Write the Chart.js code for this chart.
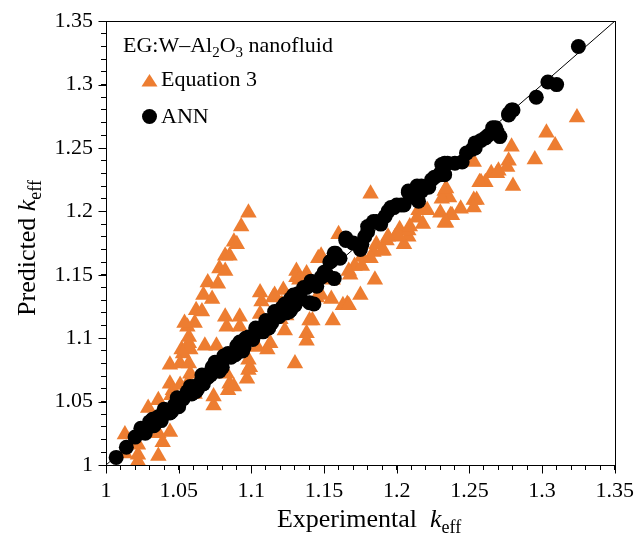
<!DOCTYPE html>
<html>
<head>
<meta charset="utf-8">
<script src="https://cdn.jsdelivr.net/npm/chart.js@4.4.0/dist/chart.umd.min.js"></script>
<style>
html, body { margin: 0; padding: 0; background: #fff; }
</style>
</head>
<body>
<canvas id="chart" width="642" height="541"></canvas>
<script>
// axis range and ticks
const axisMin = 1;
const axisMax = 1.35;
const minorStep = 0.01;
const tickLabels = ['1', '1.05', '1.1', '1.15', '1.2', '1.25', '1.3', '1.35'];

// Equation 3 (triangles)
const eqExperimental = [
  1.098, 1.093, 1.088, 1.090, 1.082, 1.085, 1.078, 1.082, 1.070, 1.077,
  1.067, 1.073, 1.062, 1.066, 1.056, 1.061, 1.057, 1.052, 1.058, 1.068,
  1.076, 1.082, 1.083, 1.092, 1.092, 1.106, 1.107, 1.106, 1.115, 1.131,
  1.131, 1.133, 1.122, 1.121, 1.124, 1.123, 1.140, 1.138, 1.146, 1.145,
  1.104, 1.113, 1.044, 1.057, 1.053, 1.051, 1.057, 1.058, 1.044, 1.046,
  1.045, 1.051, 1.057, 1.061, 1.036, 1.029, 1.035, 1.036, 1.044, 1.039,
  1.036, 1.022, 1.022, 1.022, 1.013, 1.013, 1.074, 1.084, 1.085, 1.097,
  1.099, 1.098, 1.083, 1.130, 1.138, 1.088, 1.111, 1.098, 1.120, 1.074,
  1.054, 1.116, 1.182, 1.160, 1.148, 1.205, 1.208, 1.202, 1.199, 1.193,
  1.191, 1.184, 1.182, 1.176, 1.171, 1.167, 1.168, 1.156, 1.185, 1.175,
  1.155, 1.148, 1.166, 1.163, 1.214, 1.215, 1.138, 1.233, 1.236, 1.231,
  1.253, 1.244, 1.237, 1.233, 1.230, 1.221, 1.218, 1.208, 1.201, 1.194,
  1.190, 1.186, 1.176, 1.167, 1.156, 1.142, 1.258, 1.265, 1.270, 1.253,
  1.279, 1.277, 1.276, 1.280, 1.269, 1.261, 1.257, 1.234, 1.255, 1.253,
  1.238, 1.234, 1.219, 1.209, 1.324, 1.303, 1.309, 1.295
];
const eqPredicted = [
  1.199, 1.188, 1.176, 1.174, 1.165, 1.165, 1.155, 1.153, 1.144, 1.143,
  1.134, 1.131, 1.122, 1.121, 1.109, 1.112, 1.101, 1.091, 1.091, 1.094,
  1.094, 1.117, 1.109, 1.117, 1.109, 1.136, 1.129, 1.119, 1.132, 1.153,
  1.148, 1.146, 1.138, 1.127, 1.118, 1.106, 1.114, 1.104, 1.163, 1.132,
  1.093, 1.096, 1.079, 1.096, 1.088, 1.080, 1.080, 1.072, 1.064, 1.059,
  1.055, 1.063, 1.066, 1.056, 1.051, 1.045, 1.034, 1.025, 1.026, 1.018,
  1.007, 1.016, 1.008, 1.003, 1.024, 1.009, 1.047, 1.059, 1.064, 1.068,
  1.077, 1.083, 1.072, 1.080, 1.098, 1.062, 1.091, 1.075, 1.115, 1.054,
  1.112, 1.134, 1.214, 1.182, 1.165, 1.174, 1.180, 1.186, 1.180, 1.177,
  1.169, 1.168, 1.163, 1.164, 1.157, 1.153, 1.150, 1.146, 1.146, 1.134,
  1.131, 1.134, 1.127, 1.126, 1.195, 1.201, 1.151, 1.216, 1.211, 1.210,
  1.209, 1.202, 1.197, 1.191, 1.199, 1.201, 1.190, 1.185, 1.181, 1.180,
  1.169, 1.174, 1.157, 1.126, 1.114, 1.114, 1.223, 1.230, 1.232, 1.239,
  1.251, 1.240, 1.235, 1.220, 1.230, 1.223, 1.223, 1.218, 1.209, 1.203,
  1.197, 1.191, 1.201, 1.188, 1.274, 1.262, 1.252, 1.241
];

// ANN (circles)
const annExperimental = [
  1.007, 1.014, 1.020, 1.024, 1.030, 1.036, 1.041, 1.047, 1.053, 1.056,
  1.061, 1.065, 1.070, 1.075, 1.078, 1.083, 1.075, 1.084, 1.092, 1.098,
  1.105, 1.111, 1.117, 1.121, 1.127, 1.127, 1.132, 1.138, 1.140, 1.143,
  1.148, 1.150, 1.154, 1.155, 1.157, 1.158, 1.157, 1.141, 1.136, 1.130,
  1.165, 1.165, 1.176, 1.175, 1.180, 1.180, 1.184, 1.186, 1.194, 1.196,
  1.198, 1.200, 1.203, 1.208, 1.208, 1.214, 1.215, 1.217, 1.217, 1.222,
  1.222, 1.224, 1.230, 1.230, 1.233, 1.231, 1.233, 1.235, 1.245, 1.252,
  1.254, 1.254, 1.261, 1.263, 1.268, 1.268, 1.269, 1.271, 1.277, 1.277,
  1.279, 1.280, 1.296, 1.304, 1.310, 1.325,
  1.027, 1.033, 1.038, 1.044, 1.050, 1.059, 1.063, 1.067, 1.072, 1.080,
  1.086, 1.089, 1.095, 1.101, 1.108, 1.114, 1.119, 1.124, 1.130, 1.134,
  1.145, 1.152, 1.161, 1.170, 1.178, 1.189, 1.192, 1.205, 1.212, 1.226,
  1.240, 1.248, 1.258, 1.266,
  1.032, 1.040, 1.049, 1.058, 1.066, 1.073, 1.081, 1.090, 1.096, 1.103,
  1.110, 1.116, 1.123, 1.129, 1.045, 1.062, 1.078, 1.094, 1.112, 1.126
];
const annPredicted = [
  1.006, 1.014, 1.022, 1.029, 1.034, 1.038, 1.042, 1.047, 1.052, 1.058,
  1.062, 1.065, 1.069, 1.080, 1.079, 1.085, 1.081, 1.088, 1.097, 1.101,
  1.107, 1.111, 1.120, 1.124, 1.122, 1.131, 1.135, 1.140, 1.128, 1.127,
  1.148, 1.152, 1.160, 1.161, 1.167, 1.167, 1.147, 1.145, 1.140, 1.132,
  1.177, 1.179, 1.174, 1.170, 1.184, 1.188, 1.192, 1.192, 1.200, 1.203,
  1.203, 1.205, 1.205, 1.215, 1.216, 1.220, 1.208, 1.216, 1.220, 1.219,
  1.220, 1.225, 1.229, 1.230, 1.229, 1.237, 1.238, 1.238, 1.239, 1.249,
  1.254, 1.250, 1.258, 1.260, 1.264, 1.266, 1.263, 1.259, 1.276, 1.277,
  1.280, 1.280, 1.290, 1.302, 1.300, 1.330,
  1.025, 1.031, 1.035, 1.041, 1.046, 1.056, 1.060, 1.064, 1.071, 1.077,
  1.085, 1.087, 1.093, 1.099, 1.105, 1.112, 1.117, 1.120, 1.126, 1.131,
  1.141, 1.150, 1.163, 1.175, 1.180, 1.190, 1.196, 1.205, 1.211, 1.227,
  1.238, 1.246, 1.256, 1.266,
  1.036, 1.044, 1.053, 1.062, 1.071, 1.077, 1.086, 1.094, 1.100, 1.108,
  1.114, 1.121, 1.127, 1.134, 1.042, 1.058, 1.074, 1.090, 1.108, 1.121
];

// 1:1 line
const lineX = [1, 1.35];
const lineY = [1, 1.35];

const orange = '#ED7D31';
const serif = "'Liberation Serif', 'DejaVu Serif', serif";

function toPoints(xs, ys) {
  return xs.map((x, i) => ({ x: x, y: ys[i] }));
}

function isMajor(v) {
  return Math.round(v * 100) % 5 === 0;
}

function tickText(v) {
  if (!isMajor(v)) return '';
  const i = Math.round((v - axisMin) / 0.05);
  return tickLabels[i];
}

// text pieces side by side, centred on x: {t, style, size, dy}
function drawParts(ctx, parts, x, y) {
  let total = 0;
  parts.forEach(p => {
    ctx.font = p.style + ' ' + p.size + 'px ' + serif;
    p.w = ctx.measureText(p.t).width;
    total += p.w;
  });
  let cx = x - total / 2;
  parts.forEach(p => {
    ctx.font = p.style + ' ' + p.size + 'px ' + serif;
    ctx.fillText(p.t, cx, y + (p.dy || 0));
    cx += p.w;
  });
}

function drawPartsLeft(ctx, parts, x, y) {
  let cx = x;
  parts.forEach(p => {
    ctx.font = p.style + ' ' + p.size + 'px ' + serif;
    ctx.fillText(p.t, cx, y + (p.dy || 0));
    cx += ctx.measureText(p.t).width;
  });
}

const framePlugin = {
  id: 'frame',
  afterDraw(chart) {
    const ctx = chart.ctx;
    const a = chart.chartArea;
    const xs = chart.scales.x;
    const ys = chart.scales.y;
    const L = Math.round(a.left) + 0.5;
    const B = Math.round(a.bottom) + 0.5;
    ctx.save();
    ctx.strokeStyle = '#000';
    ctx.lineWidth = 1;
    ctx.strokeRect(L, Math.round(a.top) + 0.5,
      Math.round(a.right - a.left), Math.round(a.bottom - a.top));

    // longer marks on the labelled ticks
    ctx.beginPath();
    for (let i = 0; i <= 35; i += 5) {
      const v = axisMin + i * minorStep;
      const px = Math.round(xs.getPixelForValue(v)) + 0.5;
      ctx.moveTo(px, B);
      ctx.lineTo(px, B + 8);
      const py = Math.round(ys.getPixelForValue(v)) + 0.5;
      ctx.moveTo(L, py);
      ctx.lineTo(L - 8, py);
    }
    ctx.stroke();

    // axis titles
    ctx.fillStyle = '#000';
    ctx.textBaseline = 'alphabetic';
    ctx.textAlign = 'left';
    drawParts(ctx, [
      { t: 'Experimental  ', style: 'normal', size: 26 },
      { t: 'k', style: 'italic', size: 26 },
      { t: 'eff', style: 'normal', size: 18, dy: 6 }
    ], 369, 527);

    ctx.save();
    ctx.translate(35, 248);
    ctx.rotate(-Math.PI / 2);
    drawParts(ctx, [
      { t: 'Predicted ', style: 'normal', size: 26 },
      { t: 'k', style: 'italic', size: 26 },
      { t: 'eff', style: 'normal', size: 18, dy: 6 }
    ], 0, 0);
    ctx.restore();

    // legend
    drawPartsLeft(ctx, [
      { t: 'EG:W\u2013Al', style: 'normal', size: 22 },
      { t: '2', style: 'normal', size: 15, dy: 5 },
      { t: 'O', style: 'normal', size: 22 },
      { t: '3', style: 'normal', size: 15, dy: 5 },
      { t: ' nanofluid', style: 'normal', size: 22 }
    ], 123, 52);

    ctx.fillStyle = orange;
    ctx.beginPath();
    ctx.moveTo(149.5, 74);
    ctx.lineTo(157.5, 86.5);
    ctx.lineTo(141.5, 86.5);
    ctx.closePath();
    ctx.fill();
    ctx.fillStyle = '#000';
    ctx.beginPath();
    ctx.arc(149.5, 116.5, 7.5, 0, Math.PI * 2);
    ctx.fill();
    ctx.font = '22px ' + serif;
    ctx.fillText('Equation 3', 161, 86);
    ctx.fillText('ANN', 161, 123);
    ctx.restore();
  }
};

Chart.defaults.color = '#000';

const tickGrid = {
  display: true,
  drawOnChartArea: false,
  drawTicks: true,
  tickLength: 5,
  tickWidth: 1,
  tickColor: '#000',
  color: '#000'
};

const chart = new Chart(document.getElementById('chart').getContext('2d'), {
  type: 'scatter',
  data: {
    datasets: [
      {
        label: 'ANN',
        data: toPoints(annExperimental, annPredicted),
        backgroundColor: '#000',
        borderWidth: 0,
        pointStyle: 'circle',
        pointRadius: 7.5,
        pointHoverRadius: 7.5,
        order: 0
      },
      {
        label: 'Equation 3',
        data: toPoints(eqExperimental, eqPredicted),
        backgroundColor: orange,
        borderWidth: 0,
        pointStyle: 'triangle',
        pointRadius: 9.5,
        pointHoverRadius: 9.5,
        order: 1
      },
      {
        type: 'line',
        label: '1:1',
        data: toPoints(lineX, lineY),
        borderColor: '#000',
        borderWidth: 1,
        pointRadius: 0,
        fill: false,
        order: 2
      }
    ]
  },
  options: {
    responsive: false,
    animation: false,
    layout: { padding: { left: 0, right: 27, top: 20, bottom: 0 } },
    plugins: {
      legend: { display: false },
      tooltip: { enabled: false }
    },
    scales: {
      x: {
        type: 'linear',
        min: axisMin,
        max: axisMax,
        grid: tickGrid,
        border: { display: false },
        ticks: {
          stepSize: minorStep,
          autoSkip: false,
          maxRotation: 0,
          padding: 8,
          font: { family: serif, size: 22 },
          callback: v => tickText(v)
        },
        afterFit: s => { s.height = 76; }
      },
      y: {
        type: 'linear',
        min: axisMin,
        max: axisMax,
        grid: tickGrid,
        border: { display: false },
        ticks: {
          stepSize: minorStep,
          autoSkip: false,
          padding: 8,
          font: { family: serif, size: 22 },
          callback: v => tickText(v)
        },
        afterFit: s => { s.width = 106; }
      }
    }
  },
  plugins: [framePlugin]
});
</script>
</body>
</html>
